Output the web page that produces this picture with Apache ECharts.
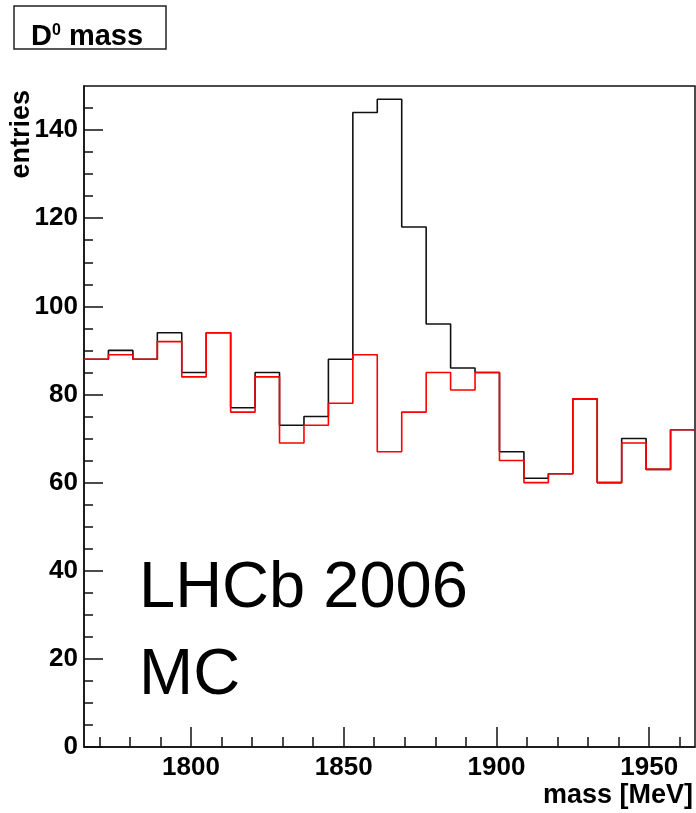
<!DOCTYPE html>
<html lang="en">
<head>
    <meta charset="UTF-8">
    <title>D0 mass</title>
    <script type="text/javascript" src="https://cdn.jsdelivr.net/npm/echarts@6/dist/echarts.min.js"></script>
    <style>
        html, body { margin: 0; padding: 0; background: #fff; }
        #chart { width: 696px; height: 813px; }
    </style>
</head>
<body>
<div id="chart"></div>
<script>
    // histogram binning: 25 bins of 8 MeV starting at 1765
    var binStart = 1765;
    var binWidth = 8;
    // all candidates (black) and background (red), entries per bin
    var allEntries = [88, 90, 88, 94, 85, 94, 77, 85, 73, 75, 88, 144, 147, 118, 96, 86, 85, 67, 61, 62, 79, 60, 70, 63, 72];
    var bkgEntries = [88, 89, 88, 92, 84, 94, 76, 84, 69, 73, 78, 89, 67, 76, 85, 81, 85, 65, 60, 62, 79, 60, 69, 63, 72];
    var xMajor = [1800, 1850, 1900, 1950];
    var xMinor = [1770, 1780, 1790, 1810, 1820, 1830, 1840, 1860, 1870, 1880, 1890, 1910, 1920, 1930, 1940, 1960];
    var yMajor = [0, 20, 40, 60, 80, 100, 120, 140];
    var yMinor = [5, 10, 15, 25, 30, 35, 45, 50, 55, 65, 70, 75, 85, 90, 95, 105, 110, 115, 125, 130, 135, 145];

    function steps(values) {
        var pts = values.map(function (v, i) { return [binStart + i * binWidth, v]; });
        pts.push([binStart + values.length * binWidth, values[values.length - 1]]);
        return pts;
    }

    var font = 'Liberation Sans, Arial, sans-serif';
    var lineCol = '#111';
    var xMin = binStart, xMax = binStart + allEntries.length * binWidth;

    var mychart = echarts.init(document.getElementById('chart'));
    var option = {
        animation: false,
        grid: {
            left: 84, top: 86, right: 1, bottom: 66,
            show: true, borderColor: lineCol, borderWidth: 1.5, backgroundColor: 'transparent'
        },
        xAxis: [{
            type: 'value', min: xMin, max: xMax, position: 'bottom',
            axisLine: { show: true, lineStyle: { color: lineCol, width: 1.5 } },
            axisTick: { inside: true, length: 20, customValues: xMajor, lineStyle: { color: lineCol, width: 1.5 } },
            axisLabel: {
                customValues: xMajor, margin: 8, color: '#000', fontFamily: font, fontWeight: 'bold', fontSize: 26,
                formatter: function (v) { return String(v); }
            },
            splitLine: { show: false }
        }, {
            type: 'value', min: xMin, max: xMax, position: 'bottom',
            axisLine: { show: false },
            axisTick: { inside: true, length: 10, customValues: xMinor, lineStyle: { color: lineCol, width: 1.5 } },
            axisLabel: { show: false },
            splitLine: { show: false }
        }],
        yAxis: [{
            type: 'value', min: 0, max: 150, position: 'left',
            axisLine: { show: true, lineStyle: { color: lineCol, width: 1.5 } },
            axisTick: { inside: true, length: 19, customValues: yMajor, lineStyle: { color: lineCol, width: 1.5 } },
            axisLabel: { customValues: yMajor, margin: 6, color: '#000', fontFamily: font, fontWeight: 'bold', fontSize: 26 },
            splitLine: { show: false }
        }, {
            type: 'value', min: 0, max: 150, position: 'left',
            axisLine: { show: false },
            axisTick: { inside: true, length: 9, customValues: yMinor, lineStyle: { color: lineCol, width: 1.5 } },
            axisLabel: { show: false },
            splitLine: { show: false }
        }],
        series: [{
            name: 'all', type: 'line', step: 'end', data: steps(allEntries),
            showSymbol: false, z: 3,
            lineStyle: { color: '#111', width: 1.6 }
        }, {
            name: 'background', type: 'line', step: 'end', data: steps(bkgEntries),
            showSymbol: false, z: 4,
            lineStyle: { color: '#ff0000', width: 1.6 }
        }],
        graphic: [{
            type: 'rect', shape: { x: 14, y: 6, width: 152, height: 43 },
            style: { fill: '#fff', stroke: '#222', lineWidth: 1.5 }
        }, {
            type: 'text', x: 31, y: 37,
            style: {
                text: '{a|D}{s|0}{a| mass}', verticalAlign: 'middle',
                rich: {
                    a: { fontFamily: font, fontWeight: 'bold', fontSize: 29, fill: '#000' },
                    s: { fontFamily: font, fontWeight: 'bold', fontSize: 16, fill: '#000', verticalAlign: 'top' }
                }
            }
        }, {
            type: 'text', x: 22, y: 90, rotation: Math.PI / 2,
            style: { text: 'entries', align: 'right', verticalAlign: 'middle', fontFamily: font, fontWeight: 'bold', fontSize: 27, fill: '#000' }
        }, {
            type: 'text', x: 693, y: 796,
            style: { text: 'mass [MeV]', align: 'right', verticalAlign: 'middle', fontFamily: font, fontWeight: 'bold', fontSize: 27, fill: '#000' }
        }, {
            type: 'text', x: 139, y: 589,
            style: { text: 'LHCb 2006', verticalAlign: 'middle', fontFamily: font, fontSize: 65, fill: '#000' }
        }, {
            type: 'text', x: 139, y: 676,
            style: { text: 'MC', verticalAlign: 'middle', fontFamily: font, fontSize: 65, fill: '#000' }
        }]
    };
    mychart.setOption(option);
</script>
</body>
</html>
